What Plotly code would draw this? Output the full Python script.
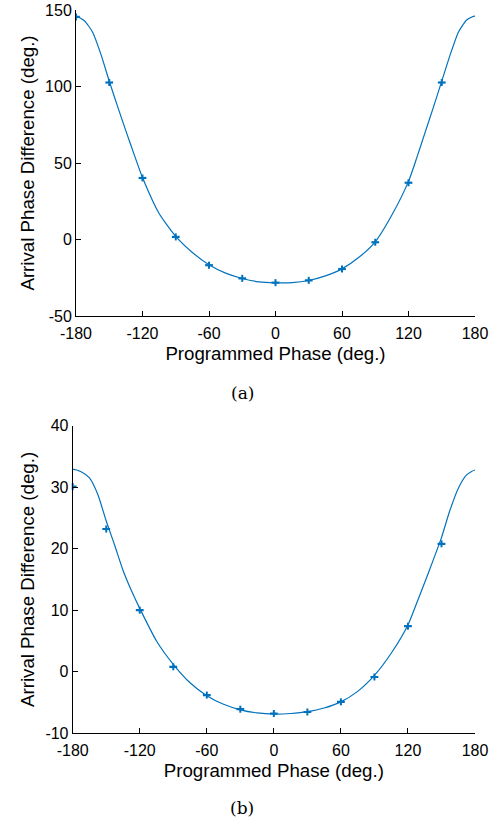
import plotly.graph_objects as go

# Measured points (programmed phase, arrival phase difference)
phase_pts = [-180, -150, -120, -90, -60, -30, 0, 30, 60, 90, 120, 150]
diff_a = [145.5, 102.6, 40.2, 1.7, -16.8, -25.4, -28.2, -26.7, -19.3, -1.8, 37.1, 102.6]
diff_b = [30.1, 23.2, 10.0, 0.8, -3.8, -6.1, -6.8, -6.55, -4.9, -0.86, 7.4, 20.8]

# Fitted (periodic) curve; one step past each end so the
# curve stays flat at +/-180 (the part outside the axis range is clipped)
phase_fit = [-187.5, -180, -172.5, -165, -157.5, -150, -142.5, -135, -127.5, -120, -105, -90,
             -75, -60, -45, -30, -15, 0, 15, 30, 45, 60, 75, 90, 105, 120, 127.5, 135,
             142.5, 150, 157.5, 165, 172.5, 180, 187.5]
fit_a = [143.5, 146, 143, 135.5, 121, 103.5, 87, 71, 55.5, 40.5, 17, 2,
         -8.5, -16.5, -22, -25.5, -27.7, -28.3, -28.2, -26.8, -23.8, -19.2, -11.8, -1.5, 16, 38,
         53.5, 70, 86.5, 103.5, 120.5, 135.5, 143.5, 146, 143]
fit_b = [32.0, 32.9, 32.5, 31.5, 28.8, 24.5, 20.6, 16.5, 13.2, 10.3, 5.0, 1.2,
         -1.8, -3.9, -5.3, -6.2, -6.7, -6.9, -6.8, -6.5, -5.9, -4.9, -3.2, -0.6, 3, 7.6,
         11, 14.5, 18.1, 21.8, 26.2, 29.8, 32.0, 32.8, 32.5]

x_ticks = [-180, -120, -60, 0, 60, 120, 180]
x_ticktext = ["-180", "-120", "-60", "0", "60", "120", "180"]
ya_ticks = [-50, 0, 50, 100, 150]
yb_ticks = [-10, 0, 10, 20, 30, 40]

BLUE = "#0072BD"
W, H = 500, 825
SANS = "Liberation Sans, Arial"


def px_x(p):
    return p / W


def px_y(p):
    return 1 - p / H


fig = go.Figure()

for xa, ya, fit, pts in [("x", "y", fit_a, diff_a), ("x2", "y2", fit_b, diff_b)]:
    fig.add_trace(go.Scatter(x=phase_fit, y=fit, mode="lines", xaxis=xa, yaxis=ya,
                             line=dict(color=BLUE, width=1.2, shape="spline", smoothing=0.6),
                             showlegend=False, hoverinfo="skip"))
    fig.add_trace(go.Scatter(x=phase_pts, y=pts, mode="markers", xaxis=xa, yaxis=ya,
                             marker=dict(symbol="line-ns-open", size=5, color=BLUE,
                                         line=dict(color=BLUE, width=2)),
                             error_x=dict(type="constant", value=3.5, color=BLUE,
                                          thickness=2.2, width=0),
                             cliponaxis=False, showlegend=False))

axis_common = dict(showgrid=False, zeroline=False, showline=True, linecolor="black",
                   linewidth=1, ticks="inside", ticklen=5, tickcolor="black",
                   tickfont=dict(family=SANS, size=16, color="black"),
                   mirror=False, automargin=False, ticklabeloverflow="allow")

title_font = dict(family=SANS, size=18.7, color="black")

fig.update_layout(
    width=W, height=H, margin=dict(l=0, r=0, t=0, b=0),
    plot_bgcolor="white", paper_bgcolor="white",
    xaxis=dict(domain=[px_x(76), px_x(475)], anchor="y", range=[-180, 180],
               tickvals=x_ticks, ticktext=x_ticktext, ticklabelstandoff=3,
               title=dict(text="Programmed Phase (deg.)", standoff=5, font=title_font),
               **axis_common),
    yaxis=dict(domain=[px_y(316), px_y(10)], anchor="x", range=[-50, 150],
               tickvals=ya_ticks, ticktext=[str(v) for v in ya_ticks],
               title=dict(text="Arrival Phase Difference (deg.)", standoff=5, font=title_font),
               **axis_common),
    xaxis2=dict(domain=[px_x(72.7), px_x(475)], anchor="y2", range=[-180, 180],
                tickvals=x_ticks, ticktext=x_ticktext, ticklabelstandoff=3,
                title=dict(text="Programmed Phase (deg.)", standoff=5, font=title_font),
                **axis_common),
    yaxis2=dict(domain=[px_y(733.2), px_y(425.7)], anchor="x2", range=[-10, 40],
                tickvals=yb_ticks, ticktext=[str(v) for v in yb_ticks],
                title=dict(text="Arrival Phase Difference (deg.)", standoff=5, font=title_font),
                **axis_common),
)

for label, ypix in [("(a)", 393), ("(b)", 808)]:
    fig.add_annotation(text=label, x=px_x(242), y=px_y(ypix), xref="paper", yref="paper",
                       showarrow=False, xanchor="center", yanchor="middle",
                       font=dict(family="DejaVu Serif, Liberation Serif", size=17, color="black"))

fig.write_html("out.html", config={"displayModeBar": False},
               post_script="document.body.style.margin='0px';")
